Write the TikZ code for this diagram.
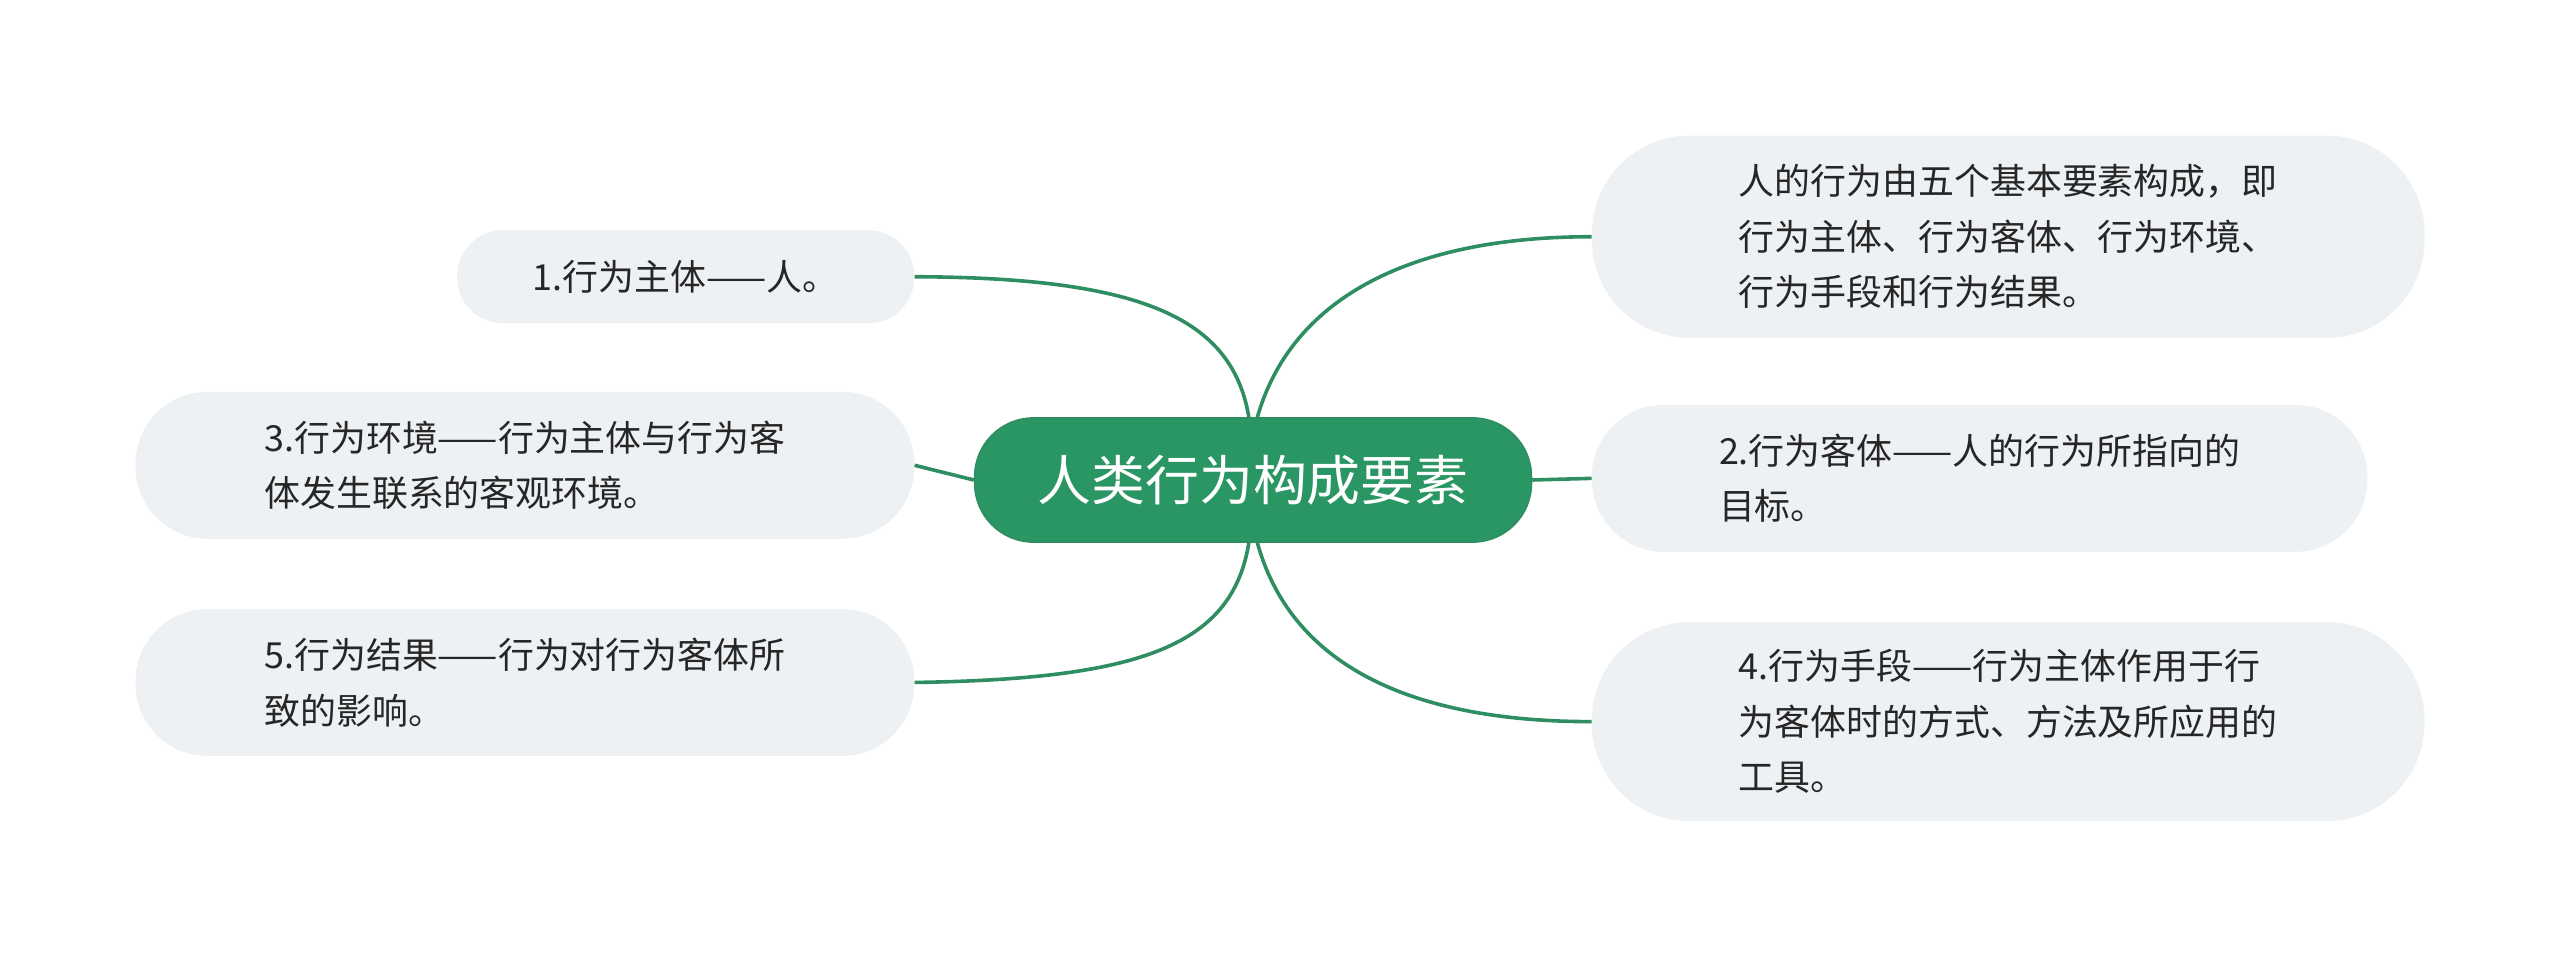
\documentclass[tikz,border=0pt]{standalone}
\usepackage{fontspec}
\newfontfamily\cjk{Noto Sans CJK SC}
\definecolor{edge}{HTML}{2E8E62}
\definecolor{cfill}{HTML}{2A9663}
\definecolor{bfill}{HTML}{EEF1F4}
\begin{document}
\begin{tikzpicture}[x=1pt,y=-1pt,
  leaf/.style={fill=bfill,draw=none,align=left,font=\cjk\fontsize{22}{34}\selectfont,text=black!85,inner sep=0pt},
  conn/.style={draw=edge,line width=2.2pt}]
\useasboundingbox (0,0) rectangle (1568,588);
\node[fill=cfill,draw=edge,line width=1pt,rounded corners=36pt,minimum width=341pt,minimum height=76pt,text=white,font=\cjk\fontsize{33}{40}\selectfont,inner sep=0pt] (c) at (767.5,294) {人类行为构成要素};
\node[leaf,minimum width=280pt,minimum height=57pt,rounded corners=28pt] (n1) at (420,169.5) {1.行为主体——人。};
\node[leaf,minimum width=477pt,minimum height=90pt,rounded corners=44pt] (n3) at (321.5,285) {3.行为环境——行为主体与行为客\\体发生联系的客观环境。};
\node[leaf,minimum width=477pt,minimum height=90pt,rounded corners=44pt] (n5) at (321.5,418) {5.行为结果——行为对行为客体所\\致的影响。};
\node[leaf,minimum width=510pt,minimum height=124pt,rounded corners=60pt] (r1) at (1230,145) {人的行为由五个基本要素构成，即\\行为主体、行为客体、行为环境、\\行为手段和行为结果。};
\node[leaf,minimum width=475pt,minimum height=90pt,rounded corners=44pt] (r2) at (1212.5,293) {2.行为客体——人的行为所指向的\\目标。};
\node[leaf,minimum width=510pt,minimum height=122pt,rounded corners=60pt] (r4) at (1230,442) {4.行为手段——行为主体作用于行\\为客体时的方式、方法及所应用的\\工具。};
\coordinate (ct1) at (765,256);
\coordinate (ct2) at (770,256);
\coordinate (cb1) at (765,332);
\coordinate (cb2) at (770,332);
\draw[conn] (ct1) .. controls (755,195) and (700,170) .. (n1.east);
\draw[conn] (c.west) -- (n3.east);
\draw[conn] (cb1) .. controls (755,395) and (700,416) .. (n5.east);
\draw[conn] (ct2) .. controls (790,185) and (860,145) .. (r1.west);
\draw[conn] (c.east) -- (r2.west);
\draw[conn] (cb2) .. controls (790,405) and (860,442) .. (r4.west);
\end{tikzpicture}
\end{document}
